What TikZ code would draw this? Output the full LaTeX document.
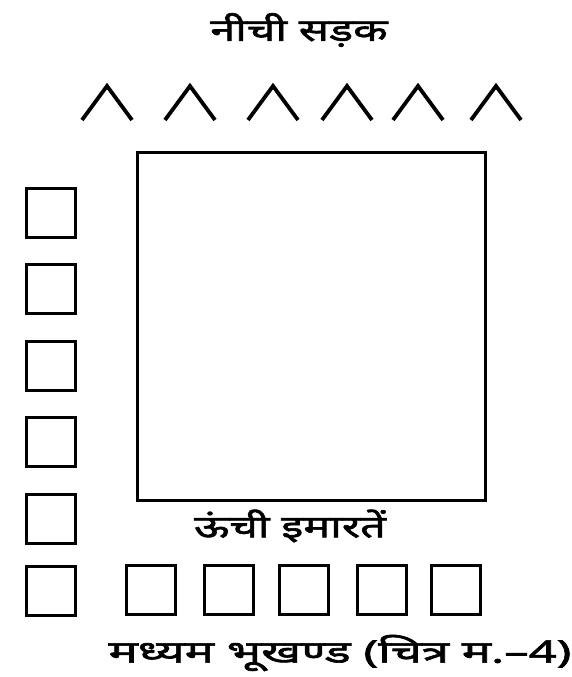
\documentclass[tikz,border=0pt]{standalone}
\usepackage{fontspec}
\newfontfamily\devfont[Script=Devanagari, FakeBold=2, FakeStretch=1.45]{Noto Sans}
\begin{document}
\begin{tikzpicture}[x=1pt, y=-1pt, font=\devfont\fontsize{31}{36}\selectfont]
			\tikzset{
				ghar/.style={draw, line width=3.5pt, minimum size=49pt, inner sep=0pt},
				shirshak/.style={inner sep=0pt}
			}
			\useasboundingbox (0,0) rectangle (572,677);
			% Ooonchi imarat
			\node[draw, line width=3pt, minimum size=348pt, inner sep=0pt] (imarat) at (311,326) {};
			% Sadak ke nishan
			\foreach \x in {107, 190, 273, 347, 418, 496} {
				\draw[line width=3.8pt] (\x-25,120) -- (\x,86) -- (\x+25,120);
			}
			% Baayen ghar
			\foreach \y [count=\i] in {213, 289, 366, 442, 519, 591} {
				\node[ghar] (baayen\i) at (51,\y) {};
			}
			% Neeche ghar
			\foreach \x [count=\i] in {151, 229, 304, 382, 456} {
				\node[ghar] (neeche\i) at (\x,590) {};
			}
			\node[shirshak] (sadak) at (299,30) {नीची सड़क};
			\node[shirshak] (oonchi) at (290,526) {ऊंची इमारतें};
			\node[shirshak] (madhyam) at (340,653) {\scalebox{1.09}[1]{मध्यम भूखण्ड (चित्र म.–4)}};
		\end{tikzpicture}
\end{document}
